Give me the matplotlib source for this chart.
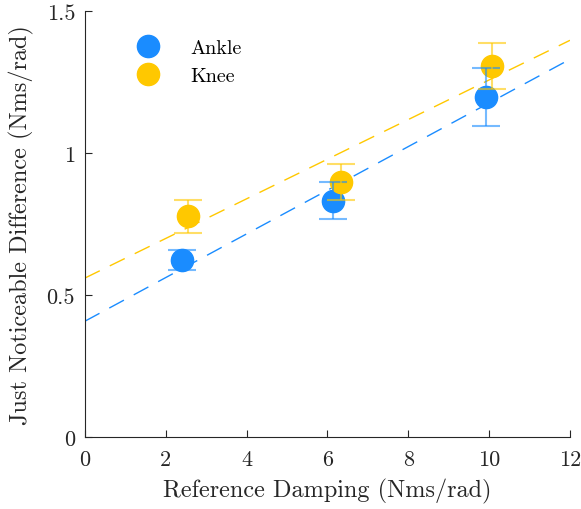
import matplotlib
matplotlib.use("Agg")
import matplotlib.pyplot as plt
import numpy as np
from matplotlib.ticker import FuncFormatter

plt.rcParams['font.family'] = 'cmr10'
plt.rcParams['mathtext.fontset'] = 'cm'
plt.rcParams['axes.unicode_minus'] = False

# mean JND per reference damping level
ankle_x = [2.4, 6.14, 9.93]
ankle_y = [0.623, 0.833, 1.197]
ankle_err = [0.035, 0.064, 0.102]
knee_x = [2.55, 6.33, 10.07]
knee_y = [0.778, 0.898, 1.306]
knee_err = [0.058, 0.063, 0.081]

# linear fits (intercept, slope)
ankle_fit = [0.408, 0.0769]
knee_fit = [0.560, 0.0698]

blue = '#1a8cff'
yellow = '#ffc800'
axcol = '#262626'

fig = plt.figure(figsize=(5.81, 5.10), dpi=100)
ax = fig.add_axes([0.146, 0.141, 0.835, 0.835])

xfit = np.array([0, 12])
ax.plot(xfit, ankle_fit[0] + ankle_fit[1] * xfit, color=blue, lw=1,
        dashes=(12, 8), zorder=1)
ax.plot(xfit, knee_fit[0] + knee_fit[1] * xfit, color=yellow, lw=1,
        dashes=(12, 8), zorder=1)

ax.plot(ankle_x, ankle_y, 'o', color=blue, ms=16, label='Ankle', zorder=2)
ax.plot(knee_x, knee_y, 'o', color=yellow, ms=16, label='Knee', zorder=2)

ax.errorbar(ankle_x, ankle_y, yerr=ankle_err, fmt='none', ecolor=blue,
            alpha=0.6, elinewidth=1.5, capsize=10, capthick=1.5, zorder=3)
ax.errorbar(knee_x, knee_y, yerr=knee_err, fmt='none', ecolor=yellow,
            alpha=0.6, elinewidth=1.5, capsize=10, capthick=1.5, zorder=3)

ax.set_xlim(0, 12)
ax.set_ylim(0, 1.5)
ax.set_xticks([0, 2, 4, 6, 8, 10, 12])
ax.set_yticks([0, 0.5, 1, 1.5])
ax.yaxis.set_major_formatter(FuncFormatter(lambda v, p: '%g' % v))

for s in ['top', 'right']:
    ax.spines[s].set_visible(False)
for s in ['left', 'bottom']:
    ax.spines[s].set_color(axcol)
    ax.spines[s].set_linewidth(0.8)
ax.tick_params(direction='in', length=5, width=0.8, colors=axcol,
               labelsize=16)
ax.tick_params(axis='x', pad=9)
ax.tick_params(axis='y', pad=7)

ax.set_xlabel('Reference Damping (Nms/rad)', fontsize=17.5, color=axcol,
              labelpad=6)
ax.set_ylabel('Just Noticeable Difference (Nms/rad)', fontsize=17.5,
              color=axcol, labelpad=9)

ax.legend(loc='upper left', bbox_to_anchor=(0.082, 0.955), frameon=False,
          fontsize=14.5, handlelength=1.5, handletextpad=1.35,
          borderaxespad=0, labelspacing=0.5)

fig.savefig('out.png', dpi=100)
